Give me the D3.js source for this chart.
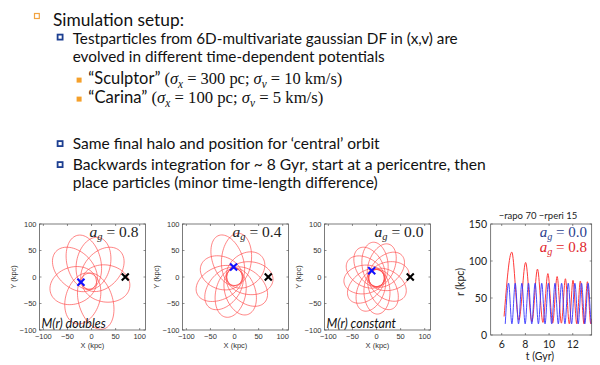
<!DOCTYPE html>
<html>
<head>
<meta charset="utf-8">
<script src="https://cdn.jsdelivr.net/npm/d3@7"></script>
<style>
body { margin: 0; background: #fff; }
svg { display: block; }
text { white-space: pre; }
</style>
</head>
<body>
<svg id="slide" width="600" height="365"></svg>
<script>
// ---- orbit panels (x, y in kpc) ----
var orbitTicks = [-100, -50, 0, 50, 100];
var panelAg = ["0.8", "0.4", "0.0"];
var panelNote = ["doubles", "", "constant"];
// each petal: [direction of apocentre (deg), apocentre radius (kpc)]
var petals08 = [[107, 90], [75, 85], [39, 86], [-7, 85], [-70, 95], [-112, 85], [-166, 83], [143, 89]];
var petals04 = [[114, 85], [83, 83], [30, 69], [-4, 80], [-35, 79], [-67, 76], [-105, 78], [-135, 78], [-159, 84], [164, 73]];
var petals00 = [[8, 68], [37, 68], [66, 69], [97, 68], [125, 67], [154, 68], [186, 68], [214, 69], [243, 68], [272, 68], [302, 67], [331, 68]];
var periRadius = [15, 16, 16];
var petalWidth = [35, 31, 27];
var orbitCentre = [[-5, -8], [0, 0], [0, -2]];
var startPoint = [[-22, -10], [-2, 19], [-10, 12]];
var finalPoint = [70, 0];

// ---- r(t) panel ----
var tTicks = [6, 8, 10, 12];
var rTicks = [0, 50, 100, 150];
var redT = [6.2, 6.85, 7.45, 8.02, 8.55, 9.02, 9.48, 9.9, 10.3, 10.68, 11.04, 11.38, 11.71, 12.02, 12.34, 12.64, 12.95, 13.24, 13.52, 13.6];
var redR = [25, 112, 20, 98, 18, 89, 17, 83, 16, 79, 16, 76, 15, 74, 15, 73, 15, 72, 15, 22];
var blueT = [6.3, 6.58, 6.86, 7.14, 7.42, 7.7, 7.98, 8.26, 8.54, 8.82, 9.1, 9.38, 9.66, 9.94, 10.22, 10.5, 10.78, 11.06, 11.34, 11.62, 11.9, 12.18, 12.46, 12.74, 13.02, 13.3, 13.58, 13.6];
var blueR = [15, 70, 15, 70, 15, 70, 15, 70, 15, 70, 15, 70, 15, 70, 15, 70, 15, 70, 15, 70, 15, 70, 15, 70, 15, 70, 15, 17];

var SANS = "Lato, 'Open Sans', sans-serif";
var SERIF = "'Liberation Serif', 'DejaVu Serif', serif";
var svg = d3.select("#slide");

// parts: [text, "s"|"m", italic, subscript]
function richText(g, x, y, size, parts, fill, anchor) {
	var t = g.append("text")
		.attr("x", x)
		.attr("y", y)
		.attr("font-size", size)
		.attr("fill", fill || "#111")
		.attr("text-anchor", anchor || "start");
	var shifted = 0;
	parts.forEach(function(p) {
		var s = t.append("tspan").text(p[0])
			.attr("font-family", p[1] == "m" ? SERIF : SANS);
		if (p[2]) s.attr("font-style", "italic");
		var want = p[3] ? size * 0.22 : 0;
		if (want != shifted) {
			s.attr("dy", want - shifted);
			shifted = want;
		}
		if (p[3]) s.attr("font-size", size * 0.68);
	});
	return t;
}

function fit(t, w) {
	t.attr("textLength", w).attr("lengthAdjust", "spacingAndGlyphs");
}

/* slide text */
svg.append("rect").attr("x", 34.5).attr("y", 13.5).attr("width", 4.8).attr("height", 5)
	.attr("fill", "#fff").attr("stroke", "#f2a341").attr("stroke-width", 1.2);
fit(richText(svg, 53, 25.5, 18, [["Simulation setup:", "s"]]), 131);

[37, 143.5, 164.5].forEach(function(yy) {
	svg.append("rect").attr("x", 57.6).attr("y", yy - 2.4).attr("width", 5).attr("height", 5)
		.attr("fill", "#fff").attr("stroke", "#1d3f91").attr("stroke-width", 1.8);
});
[80, 99].forEach(function(yy) {
	svg.append("rect").attr("x", 76.6).attr("y", yy - 2.4).attr("width", 5).attr("height", 5)
		.attr("fill", "#f5a02a");
});

fit(richText(svg, 72.7, 44, 16, [["Testparticles from 6D-multivariate gaussian DF in (x,v) are", "s"]]), 385);
fit(richText(svg, 72.7, 62, 16, [["evolved in different time-dependent potentials", "s"]]), 312);
fit(richText(svg, 88.3, 84, 17, [["“Sculptor” ", "s"], ["(", "m"], ["σ", "m", true], ["x", "m", true, true], [" = 300 pc; ", "m"], ["σ", "m", true], ["v", "m", true, true], [" = 10 km/s)", "m"]]), 254);
fit(richText(svg, 88.3, 103, 17, [["“Carina” ", "s"], ["(", "m"], ["σ", "m", true], ["x", "m", true, true], [" = 100 pc; ", "m"], ["σ", "m", true], ["v", "m", true, true], [" = 5 km/s)", "m"]]), 235);
fit(richText(svg, 72.7, 149, 16, [["Same final halo and position for ‘central’ orbit", "s"]]), 307);
fit(richText(svg, 72.7, 170, 16, [["Backwards integration for ~ 8 Gyr, start at a pericentre, then", "s"]]), 413);
fit(richText(svg, 72.7, 188, 16, [["place particles (minor time-length difference)", "s"]]), 305);

/* box + inward ticks on all sides */
function drawBox(g, x, y, xt, yt, top, bottom) {
	var L = x.range()[0], R = x.range()[1];
	g.append("rect").attr("x", L).attr("y", top).attr("width", R - L).attr("height", bottom - top)
		.attr("fill", "none").attr("stroke", "#444").attr("stroke-width", 0.7);
	var tk = g.append("g").attr("stroke", "#444").attr("stroke-width", 0.6);
	xt.forEach(function(v) {
		tk.append("line").attr("x1", x(v)).attr("x2", x(v)).attr("y1", bottom).attr("y2", bottom - 2);
		tk.append("line").attr("x1", x(v)).attr("x2", x(v)).attr("y1", top).attr("y2", top + 2);
	});
	yt.forEach(function(v) {
		tk.append("line").attr("x1", L).attr("x2", L + 2).attr("y1", y(v)).attr("y2", y(v));
		tk.append("line").attr("x1", R).attr("x2", R - 2).attr("y1", y(v)).attr("y2", y(v));
	});
}

/* orbit panels */
var panels = [{ L: 39.5, R: 145.5 }, { L: 182.5, R: 288.5 }, { L: 324.5, R: 430.5 }];
var allPetals = [petals08, petals04, petals00];
var ringAngles = d3.range(0, 361, 5);

panels.forEach(function(p, i) {
	var top = 224, bottom = 330;
	var x = d3.scaleLinear().domain([-108, 112]).range([p.L, p.R]);
	var y = d3.scaleLinear().domain([-100, 100]).range([bottom, top]);
	var g = svg.append("g");

	g.append("clipPath").attr("id", "clip" + i)
		.append("rect").attr("x", p.L).attr("y", top).attr("width", p.R - p.L).attr("height", bottom - top);

	var line = d3.line().x(function(d) { return x(d[0]); }).y(function(d) { return y(d[1]); });
	var og = g.append("g").attr("clip-path", "url(#clip" + i + ")");
	allPetals[i].forEach(function(pt) {
		var th = pt[0] * Math.PI / 180;
		var a = (pt[1] + periRadius[i]) / 2;
		var dd = (pt[1] - periRadius[i]) / 2;
		var b = petalWidth[i];
		var cx = orbitCentre[i][0] + dd * Math.cos(th), cy = orbitCentre[i][1] + dd * Math.sin(th);
		var pts = ringAngles.map(function(f) {
			var ph = f * Math.PI / 180;
			return [cx + a * Math.cos(ph) * Math.cos(th) - b * Math.sin(ph) * Math.sin(th),
				cy + a * Math.cos(ph) * Math.sin(th) + b * Math.sin(ph) * Math.cos(th)];
		});
		og.append("path").attr("d", line(pts))
			.attr("fill", "none").attr("stroke", "#ff4a4a").attr("stroke-opacity", 0.85).attr("stroke-width", 0.8);
	});

	drawBox(g, x, y, orbitTicks, orbitTicks, top, bottom);

	var fmt = d3.format("d");
	orbitTicks.forEach(function(v) {
		g.append("text").attr("x", x(v)).attr("y", bottom + 9).attr("text-anchor", "middle")
			.attr("font-family", "'Liberation Sans', sans-serif").attr("font-size", 7.5).attr("fill", "#333")
			.text(fmt(v));
		g.append("text").attr("x", p.L - 3).attr("y", y(v) + 2.6).attr("text-anchor", "end")
			.attr("font-family", "'Liberation Sans', sans-serif").attr("font-size", 7.5).attr("fill", "#333")
			.text(fmt(v));
	});
	g.append("text").attr("x", (p.L + p.R) / 2).attr("y", bottom + 18).attr("text-anchor", "middle")
		.attr("font-family", "'Liberation Sans', sans-serif").attr("font-size", 7.5).attr("fill", "#333")
		.text("X (kpc)");
	g.append("text").attr("transform", "translate(" + (p.L - 23.5) + "," + ((top + bottom) / 2) + ") rotate(-90)")
		.attr("text-anchor", "middle")
		.attr("font-family", "'Liberation Sans', sans-serif").attr("font-size", 7.5).attr("fill", "#333")
		.text("Y (kpc)");

	richText(g, p.R - 7, 237, 15.5, [["a", "m", true], ["g", "m", true, true], [" = " + panelAg[i], "m"]], "#222", "end");
	if (panelNote[i]) {
		richText(g, p.L + 2, 327.5, 12.5, [["M(r) " + panelNote[i], "s", true]], "#111");
	}

	var sym = d3.symbol().type(d3.symbolX).size(34);
	g.append("path").attr("d", sym).attr("transform", "translate(" + x(finalPoint[0]) + "," + y(finalPoint[1]) + ")")
		.attr("fill", "none").attr("stroke", "#000").attr("stroke-width", 2.1);
	g.append("path").attr("d", sym).attr("transform", "translate(" + x(startPoint[i][0]) + "," + y(startPoint[i][1]) + ")")
		.attr("fill", "none").attr("stroke", "#1010ff").attr("stroke-width", 2.1);
});

/* r(t) panel */
(function() {
	var top = 224, bottom = 335;
	var x = d3.scaleLinear().domain([5.07, 13.6]).range([490.7, 591.7]);
	var y = d3.scaleLinear().domain([0, 150]).range([bottom, top]);
	var g = svg.append("g");

	g.append("clipPath").attr("id", "clipr")
		.append("rect").attr("x", 490.7).attr("y", top).attr("width", 101).attr("height", bottom - top);
	var cg = g.append("g").attr("clip-path", "url(#clipr)");

	var line = d3.line().curve(d3.curveMonotoneX)
		.x(function(d) { return x(d[0]); }).y(function(d) { return y(d[1]); });
	cg.append("path").attr("d", line(d3.zip(redT, redR)))
		.attr("fill", "none").attr("stroke", "#ff3b3b").attr("stroke-width", 1);
	cg.append("path").attr("d", line(d3.zip(blueT, blueR)))
		.attr("fill", "none").attr("stroke", "#3535ff").attr("stroke-opacity", 0.9).attr("stroke-width", 1);

	drawBox(g, x, y, tTicks, rTicks, top, bottom);

	tTicks.forEach(function(v) {
		g.append("text").attr("x", x(v)).attr("y", bottom + 13).attr("text-anchor", "middle")
			.attr("font-family", SANS).attr("font-size", 10.5).attr("fill", "#222").text(v);
	});
	rTicks.forEach(function(v) {
		g.append("text").attr("x", 487).attr("y", y(v) + 3.7).attr("text-anchor", "end")
			.attr("font-family", SANS).attr("font-size", 10.5).attr("fill", "#222").text(v);
	});
	g.append("text").attr("x", 540).attr("y", 360).attr("text-anchor", "middle")
		.attr("font-family", SANS).attr("font-size", 10.5).attr("fill", "#222").text("t (Gyr)");
	g.append("text").attr("transform", "translate(464,282) rotate(-90)").attr("text-anchor", "middle")
		.attr("font-family", SANS).attr("font-size", 10.5).attr("fill", "#222").text("r (kpc)");
	g.append("text").attr("x", 538).attr("y", 219).attr("text-anchor", "middle")
		.attr("font-family", SANS).attr("font-size", 9.5).attr("fill", "#222").text("−rapo 70 −rperi 15");

	richText(g, 587, 237, 15, [["a", "m", true], ["g", "m", true, true], [" = 0.0", "m"]], "#2a3e8e", "end");
	richText(g, 587, 251.5, 15, [["a", "m", true], ["g", "m", true, true], [" = 0.8", "m"]], "#e0242a", "end");
})();
</script>
</body>
</html>
